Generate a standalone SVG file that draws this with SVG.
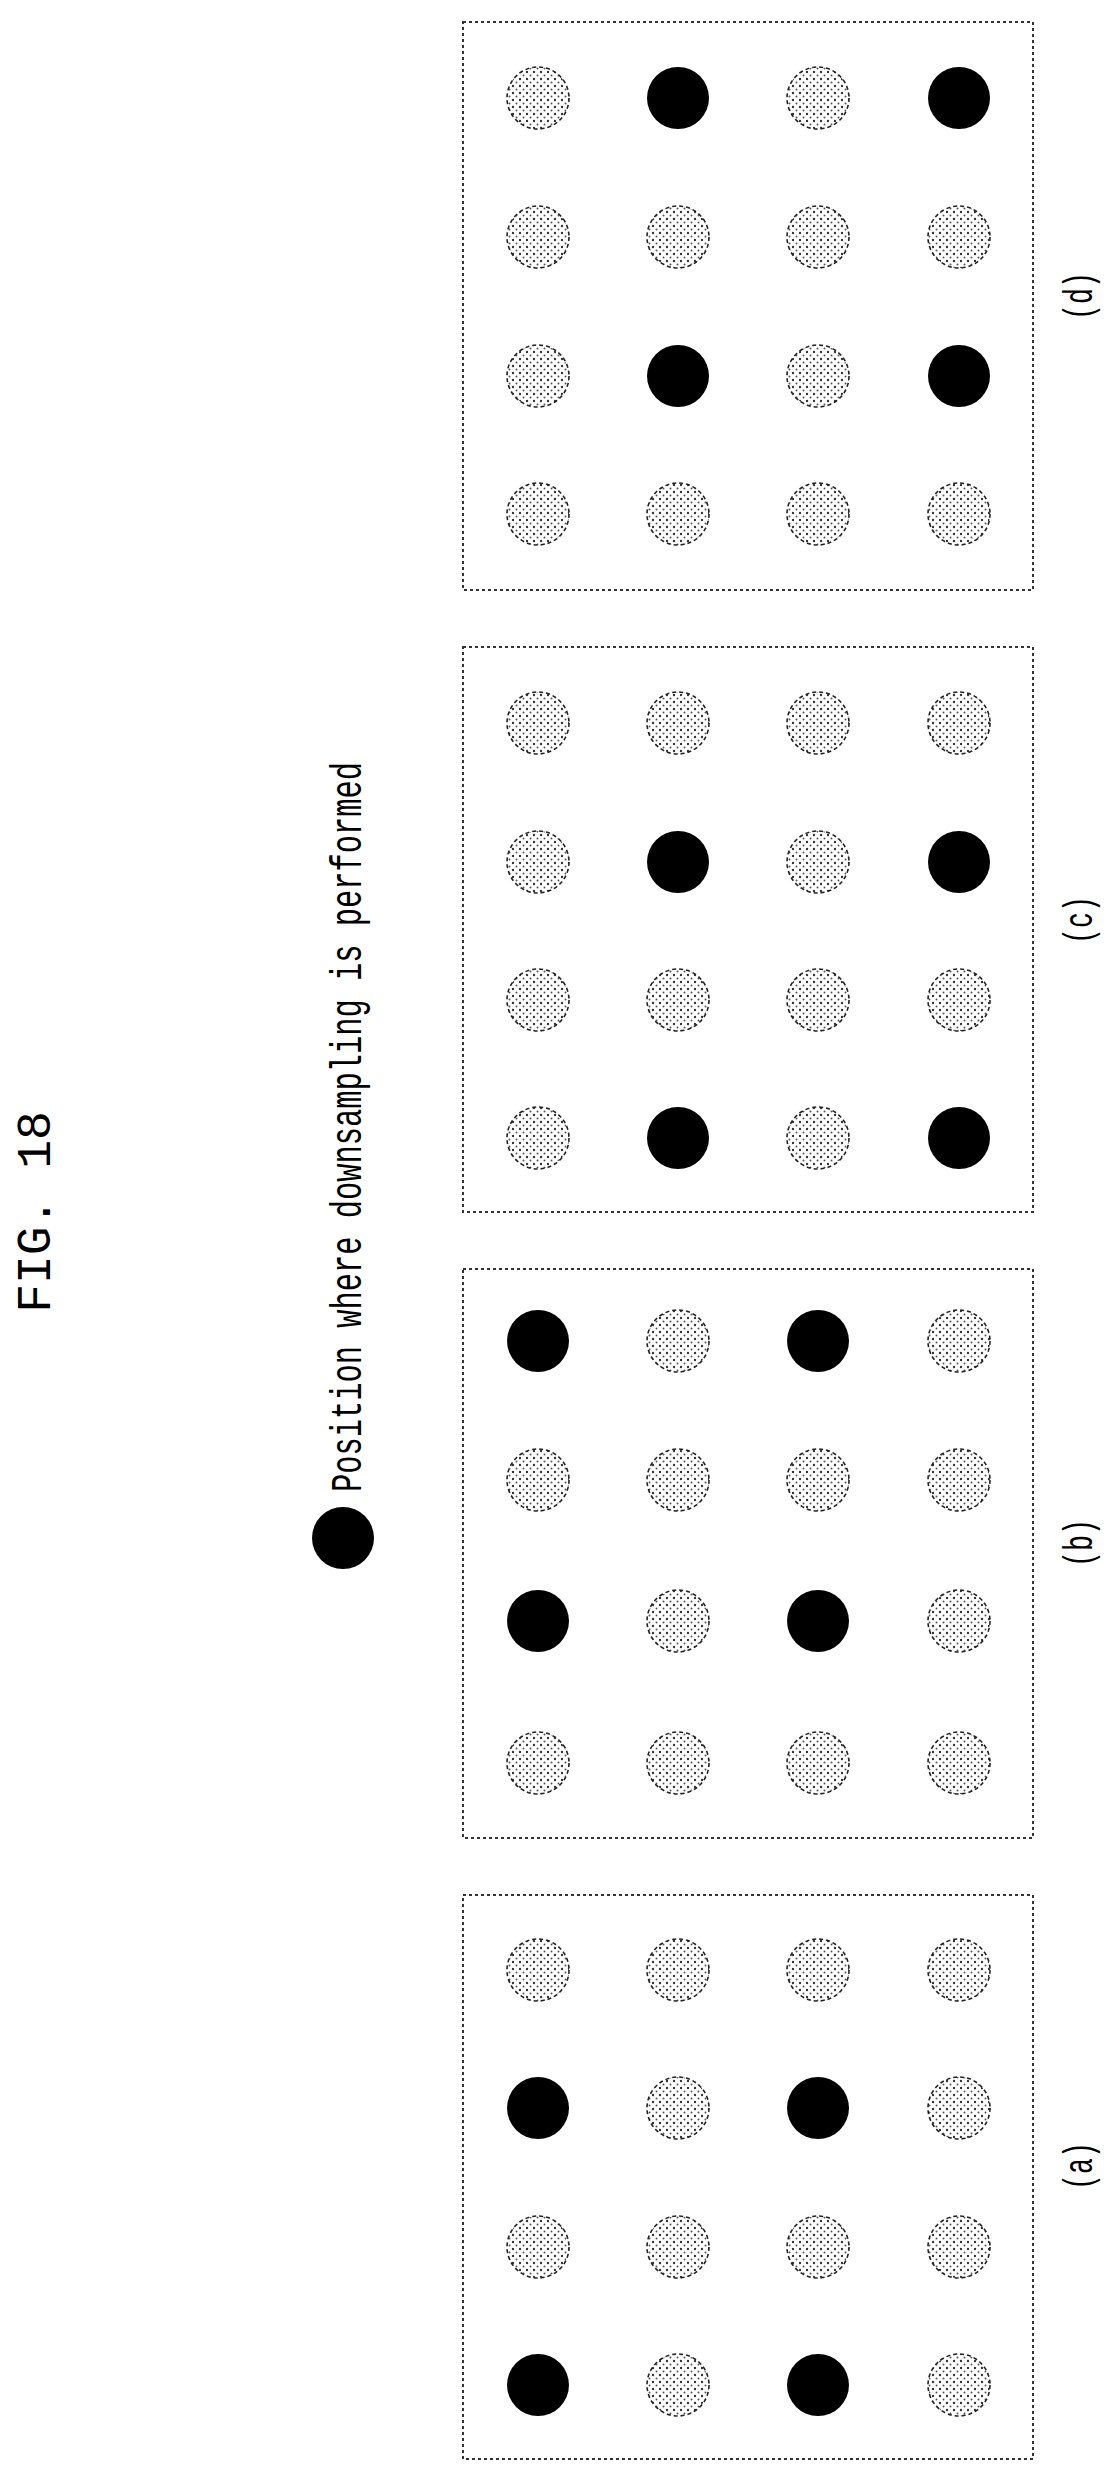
<svg xmlns="http://www.w3.org/2000/svg" width="1115" height="2472" viewBox="0 0 1115 2472">
<style>
.box{fill:none;stroke:#333;stroke-width:2;stroke-dasharray:3,3}
.lt{fill:url(#dots);stroke:#222;stroke-width:1.6;stroke-dasharray:4,3}
.bk{fill:#000}
.t{font-family:"Liberation Mono",monospace;fill:#000}
</style>
<defs>
<pattern id="dots" width="7" height="7" patternUnits="userSpaceOnUse">
<rect width="7" height="7" fill="#fff"/>
<circle cx="2" cy="2" r="1.2" fill="#333"/>
<circle cx="5.5" cy="5.5" r="1" fill="#555"/>
</pattern>
</defs>
<rect width="1115" height="2472" fill="#fff"/>
<text class="t" font-size="48" transform="translate(50,1212) rotate(-90)" text-anchor="middle">FIG. 18</text>
<g id="legend">
<circle class="bk" cx="343" cy="1538" r="31"/>
<text class="t" font-size="44" transform="translate(361,1492) rotate(-90)" textLength="730" lengthAdjust="spacingAndGlyphs">Position where downsampling is performed</text>
</g>
<g id="panel-d">
<rect class="box" x="463" y="22" width="570" height="568"/>
<circle class="lt" cx="538" cy="98" r="31"/><circle class="bk" cx="678" cy="98" r="31"/><circle class="lt" cx="818" cy="98" r="31"/><circle class="bk" cx="959" cy="98" r="31"/>
<circle class="lt" cx="538" cy="237" r="31"/><circle class="lt" cx="678" cy="237" r="31"/><circle class="lt" cx="818" cy="237" r="31"/><circle class="lt" cx="959" cy="237" r="31"/>
<circle class="lt" cx="538" cy="376" r="31"/><circle class="bk" cx="678" cy="376" r="31"/><circle class="lt" cx="818" cy="376" r="31"/><circle class="bk" cx="959" cy="376" r="31"/>
<circle class="lt" cx="538" cy="514" r="31"/><circle class="lt" cx="678" cy="514" r="31"/><circle class="lt" cx="818" cy="514" r="31"/><circle class="lt" cx="959" cy="514" r="31"/>
<text class="t" font-size="40" transform="translate(1092,320) rotate(-90)" textLength="48" lengthAdjust="spacingAndGlyphs">(d)</text>
</g>
<g id="panel-c">
<rect class="box" x="463" y="647" width="570" height="565"/>
<circle class="lt" cx="538" cy="723" r="31"/><circle class="lt" cx="678" cy="723" r="31"/><circle class="lt" cx="818" cy="723" r="31"/><circle class="lt" cx="959" cy="723" r="31"/>
<circle class="lt" cx="538" cy="862" r="31"/><circle class="bk" cx="678" cy="862" r="31"/><circle class="lt" cx="818" cy="862" r="31"/><circle class="bk" cx="959" cy="862" r="31"/>
<circle class="lt" cx="538" cy="1000" r="31"/><circle class="lt" cx="678" cy="1000" r="31"/><circle class="lt" cx="818" cy="1000" r="31"/><circle class="lt" cx="959" cy="1000" r="31"/>
<circle class="lt" cx="538" cy="1138" r="31"/><circle class="bk" cx="678" cy="1138" r="31"/><circle class="lt" cx="818" cy="1138" r="31"/><circle class="bk" cx="959" cy="1138" r="31"/>
<text class="t" font-size="40" transform="translate(1092,944) rotate(-90)" textLength="48" lengthAdjust="spacingAndGlyphs">(c)</text>
</g>
<g id="panel-b">
<rect class="box" x="463" y="1269" width="570" height="569"/>
<circle class="bk" cx="538" cy="1341" r="31"/><circle class="lt" cx="678" cy="1341" r="31"/><circle class="bk" cx="818" cy="1341" r="31"/><circle class="lt" cx="959" cy="1341" r="31"/>
<circle class="lt" cx="538" cy="1480" r="31"/><circle class="lt" cx="678" cy="1480" r="31"/><circle class="lt" cx="818" cy="1480" r="31"/><circle class="lt" cx="959" cy="1480" r="31"/>
<circle class="bk" cx="538" cy="1621" r="31"/><circle class="lt" cx="678" cy="1621" r="31"/><circle class="bk" cx="818" cy="1621" r="31"/><circle class="lt" cx="959" cy="1621" r="31"/>
<circle class="lt" cx="538" cy="1763" r="31"/><circle class="lt" cx="678" cy="1763" r="31"/><circle class="lt" cx="818" cy="1763" r="31"/><circle class="lt" cx="959" cy="1763" r="31"/>
<text class="t" font-size="40" transform="translate(1092,1567) rotate(-90)" textLength="48" lengthAdjust="spacingAndGlyphs">(b)</text>
</g>
<g id="panel-a">
<rect class="box" x="463" y="1895" width="570" height="564"/>
<circle class="lt" cx="538" cy="1970" r="31"/><circle class="lt" cx="678" cy="1970" r="31"/><circle class="lt" cx="818" cy="1970" r="31"/><circle class="lt" cx="959" cy="1970" r="31"/>
<circle class="bk" cx="538" cy="2108" r="31"/><circle class="lt" cx="678" cy="2108" r="31"/><circle class="bk" cx="818" cy="2108" r="31"/><circle class="lt" cx="959" cy="2108" r="31"/>
<circle class="lt" cx="538" cy="2247" r="31"/><circle class="lt" cx="678" cy="2247" r="31"/><circle class="lt" cx="818" cy="2247" r="31"/><circle class="lt" cx="959" cy="2247" r="31"/>
<circle class="bk" cx="538" cy="2385" r="31"/><circle class="lt" cx="678" cy="2385" r="31"/><circle class="bk" cx="818" cy="2385" r="31"/><circle class="lt" cx="959" cy="2385" r="31"/>
<text class="t" font-size="40" transform="translate(1092,2190) rotate(-90)" textLength="48" lengthAdjust="spacingAndGlyphs">(a)</text>
</g>
</svg>
